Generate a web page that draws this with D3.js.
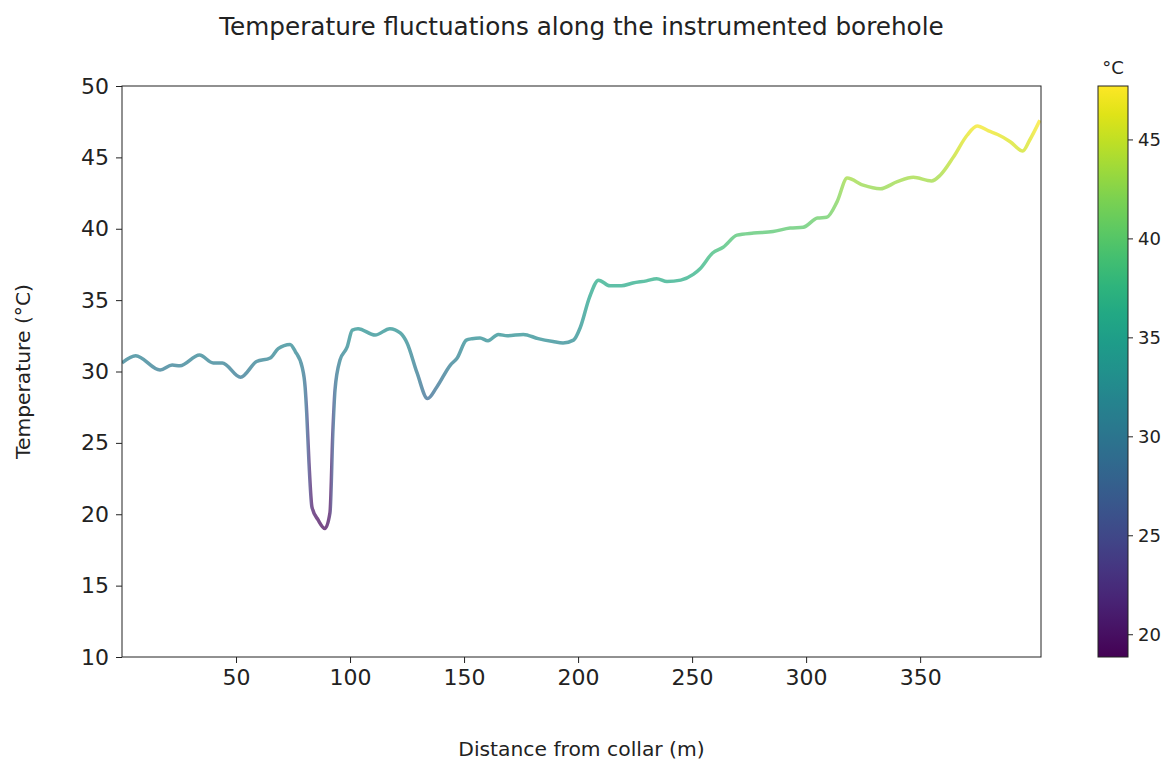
<!DOCTYPE html>
<meta charset="utf-8">
<script src="https://d3js.org/d3.v7.min.js"></script>
<style>
    body { margin: 0; background: #fff; }
    text { font-family: "DejaVu Sans", sans-serif; fill: #222; }
</style>
<div id="chart"></div>
<script>
    // distance along the borehole (m) and temperature (°C)
    var distance = [0, 6, 16.7, 22, 25.4, 34, 40, 44, 52, 59, 65, 68.5, 73.7, 76, 79, 80.3, 81, 82, 83.3, 86, 89, 91.2, 92.5, 93.4, 95.6, 98.7, 101, 103.5,
        111, 117.5, 122, 125, 129.4, 134, 138, 144, 147, 151, 153.5, 157, 160.5, 165, 169, 176, 182.5, 189, 193.4, 198, 201, 205, 209,
        214, 219, 224, 230, 234.5, 239, 245, 250.5, 253.5, 259, 263.6, 269.7, 277, 285.5, 293, 298.7, 305, 309, 313.6, 318,
        325, 332.5, 340, 347, 355, 358.8, 364.5, 370.6, 375, 380, 384, 389.5, 395, 398, 402.5];
    var temperature = [30.6, 31.1, 30.1, 30.45, 30.4, 31.15, 30.6, 30.6, 29.6, 30.7, 30.95, 31.6, 31.9, 31.4, 30.3, 28.9, 27.1, 23.6, 20.5, 19.6, 19.0, 20.1, 25.9, 28.7, 30.8, 31.7, 32.9, 33.0,
        32.55, 33.0, 32.7, 32.0, 29.9, 28.1, 28.9, 30.45, 30.95, 32.2, 32.3, 32.35, 32.15, 32.6, 32.5, 32.6, 32.3, 32.1, 32.0, 32.2, 33.1, 35.2, 36.4,
        36.0, 36.0, 36.2, 36.35, 36.5, 36.3, 36.4, 36.8, 37.2, 38.3, 38.7, 39.55, 39.7, 39.8, 40.05, 40.1, 40.75, 40.8, 41.9, 43.55,
        43.05, 42.8, 43.3, 43.6, 43.35, 43.75, 45.0, 46.55, 47.2, 46.85, 46.6, 46.1, 45.45, 46.2, 47.6];

    var xTicks = [50, 100, 150, 200, 250, 300, 350];
    var yTicks = [10, 15, 20, 25, 30, 35, 40, 45, 50];
    var cbarTicks = [20, 25, 30, 35, 40, 45];

    var W = 1170, H = 762;
    var margin = { left: 122, right: 1041, top: 86, bottom: 657 };

    var svg = d3.select("#chart").append("svg")
        .attr("width", W).attr("height", H);

    var x = d3.scaleLinear().domain([0, 403]).range([margin.left, margin.right]);
    var y = d3.scaleLinear().domain([10, 50]).range([margin.bottom, margin.top]);

    var tMin = d3.min(temperature) - 0.15, tMax = d3.max(temperature) + 0.1;
    var color = d3.scaleSequential(d3.interpolateViridis).domain([tMin, tMax]);

    var data = distance.map(function (d, i) { return { d: d, t: temperature[i] }; });

    // gradient along x so the line is coloured by its value
    var defs = svg.append("defs");
    var grad = defs.append("linearGradient")
        .attr("id", "lineGrad")
        .attr("gradientUnits", "userSpaceOnUse")
        .attr("x1", x(0)).attr("x2", x(403)).attr("y1", 0).attr("y2", 0);
    data.forEach(function (p) {
        grad.append("stop")
            .attr("offset", (p.d / 403 * 100) + "%")
            .attr("stop-color", color(p.t));
    });

    defs.append("clipPath").attr("id", "plotClip")
        .append("rect")
        .attr("x", margin.left).attr("y", margin.top)
        .attr("width", margin.right - margin.left).attr("height", margin.bottom - margin.top);

    var line = d3.line()
        .x(function (p) { return x(p.d); })
        .y(function (p) { return y(p.t); })
        .curve(d3.curveMonotoneX);

    svg.append("path")
        .datum(data)
        .attr("clip-path", "url(#plotClip)")
        .attr("d", line)
        .attr("fill", "none")
        .attr("stroke", "url(#lineGrad)")
        .attr("stroke-width", 3.5)
        .attr("stroke-opacity", 0.72)
        .attr("stroke-linejoin", "round");

    // axes
    var xAxis = svg.append("g")
        .attr("transform", "translate(0," + margin.bottom + ")")
        .call(d3.axisBottom(x).tickValues(xTicks).tickSize(6).tickPadding(6));
    var yAxis = svg.append("g")
        .attr("transform", "translate(" + margin.left + ",0)")
        .call(d3.axisLeft(y).tickValues(yTicks).tickSize(6).tickPadding(7));
    [xAxis, yAxis].forEach(function (g) {
        g.selectAll("text").style("font-size", "22px").attr("fill", "#222");
        g.selectAll("line").attr("stroke", "#222");
        g.select(".domain").remove();
    });

    // frame
    svg.append("rect")
        .attr("x", margin.left).attr("y", margin.top)
        .attr("width", margin.right - margin.left).attr("height", margin.bottom - margin.top)
        .attr("fill", "none").attr("stroke", "#222").attr("stroke-width", 1);

    // titles
    svg.append("text")
        .attr("x", (margin.left + margin.right) / 2).attr("y", 35)
        .attr("text-anchor", "middle").style("font-size", "24.7px")
        .text("Temperature fluctuations along the instrumented borehole");
    svg.append("text")
        .attr("x", (margin.left + margin.right) / 2).attr("y", 756)
        .attr("text-anchor", "middle").style("font-size", "20.3px")
        .text("Distance from collar (m)");
    svg.append("text")
        .attr("transform", "translate(30," + ((margin.top + margin.bottom) / 2) + ") rotate(-90)")
        .attr("text-anchor", "middle").style("font-size", "20.3px")
        .text("Temperature (°C)");

    // colorbar
    var cb = { x: 1098, w: 30 };
    var cy = d3.scaleLinear().domain([tMin, tMax]).range([margin.bottom, margin.top]);
    var cbGrad = defs.append("linearGradient")
        .attr("id", "cbGrad").attr("x1", 0).attr("x2", 0).attr("y1", 1).attr("y2", 0);
    d3.range(0, 1.0001, 0.05).forEach(function (s) {
        cbGrad.append("stop").attr("offset", (s * 100) + "%").attr("stop-color", d3.interpolateViridis(s));
    });
    svg.append("rect")
        .attr("x", cb.x).attr("y", margin.top)
        .attr("width", cb.w).attr("height", margin.bottom - margin.top)
        .attr("fill", "url(#cbGrad)").attr("stroke", "#222").attr("stroke-width", 1);
    var cAxis = svg.append("g")
        .attr("transform", "translate(" + (cb.x + cb.w) + ",0)")
        .call(d3.axisRight(cy).tickValues(cbarTicks).tickSize(5).tickPadding(5));
    cAxis.select(".domain").remove();
    cAxis.selectAll("text").style("font-size", "18px").attr("fill", "#222");
    cAxis.selectAll("line").attr("stroke", "#222");
    svg.append("text")
        .attr("x", cb.x + cb.w / 2).attr("y", 74)
        .attr("text-anchor", "middle").style("font-size", "18px")
        .text("°C");
</script>
